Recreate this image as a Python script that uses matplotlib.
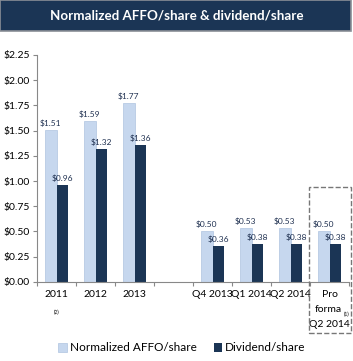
import numpy as np
import matplotlib.pyplot as plt
from matplotlib.patches import Rectangle

# Data
categories = ['2011', '2012', '2013', '', 'Q4 2013', 'Q1 2014', 'Q2 2014', 'Pro\nforma\nQ2 2014']
affo = [1.51, 1.59, 1.77, None, 0.50, 0.53, 0.53, 0.50]
dividend = [0.96, 1.32, 1.36, None, 0.36, 0.38, 0.38, 0.38]
y_ticks = [0.00, 0.25, 0.50, 0.75, 1.00, 1.25, 1.50, 1.75, 2.00, 2.25]

light = '#C6D7EE'
dark = '#1B3555'
plt.rcParams['font.family'] = ['Lato', 'DejaVu Sans']

fig = plt.figure(figsize=(3.53, 3.61), dpi=100)

# title bar
fig.patches.append(Rectangle((0, 0.915), 0.995, 0.085, transform=fig.transFigure,
                             facecolor=dark, edgecolor='#8A8F96', linewidth=1.2))
fig.text(0.5, 0.957, 'Normalized AFFO/share & dividend/share', color='white',
         fontsize=9.6, fontweight='bold', ha='center', va='center')

ax = fig.add_axes([0.105, 0.219, 0.884, 0.629])
x = np.arange(len(categories))
w = 0.3
for i in range(len(categories)):
    if affo[i] is None:
        continue
    ax.bar(x[i] - w / 2, affo[i], w, color=light, edgecolor='#AFC4E0', linewidth=0.5)
    ax.bar(x[i] + w / 2, dividend[i], w, color=dark)
    ax.text(x[i] - w / 2, affo[i] + 0.03, '$%.2f' % affo[i], ha='center', va='bottom',
            fontsize=6, color='#1F3050')
    ax.text(x[i] + w / 2, dividend[i] + 0.03, '$%.2f' % dividend[i], ha='center', va='bottom',
            fontsize=6, color='#1F3050')

ax.set_xlim(-0.5, len(categories) - 0.5)
ax.set_ylim(0, 2.25)
ax.set_yticks(y_ticks)
ax.set_yticklabels(['$%.2f' % v for v in y_ticks], fontsize=7.5)
ax.set_xticks(np.arange(len(categories) + 1) - 0.5)
ax.set_xticklabels([])
ax.tick_params(axis='x', length=3, color='#888888')
ax.tick_params(axis='y', length=3, color='#888888', pad=2)

# category labels
for i, c in enumerate(categories[:-1]):
    if c:
        ax.text(x[i], -0.08, c, ha='center', va='top', fontsize=7.5)
pro_lines = categories[-1].split('\n')
ax.text(x[7], -0.08, pro_lines[0], ha='center', va='top', fontsize=7.5)
ax.text(x[7] - 0.04, -0.23, pro_lines[1], ha='center', va='top', fontsize=7.5)
ax.text(x[7], -0.38, pro_lines[2], ha='center', va='top', fontsize=7.5)
ax.text(x[7] + 0.44, -0.30, '(1)', ha='center', va='top', fontsize=3.5)
ax.text(x[0], -0.28, '(2)', ha='center', va='top', fontsize=3.5)

for s in ['top', 'right']:
    ax.spines[s].set_visible(False)
ax.spines['left'].set_color('#888888')
ax.spines['bottom'].set_color('#888888')

# dashed box around pro forma
fig.patches.append(Rectangle((0.876, 0.078), 0.119, 0.404, transform=fig.transFigure,
                             fill=False, edgecolor='#777777', linestyle='--', linewidth=1))

# legend
fig.patches.append(Rectangle((0.165, 0.025), 0.025, 0.025, transform=fig.transFigure,
                             facecolor=light, edgecolor='#AFC4E0', linewidth=0.5))
fig.text(0.198, 0.037, 'Normalized AFFO/share', fontsize=8.5, va='center')
fig.patches.append(Rectangle((0.605, 0.025), 0.025, 0.025, transform=fig.transFigure,
                             facecolor=dark))
fig.text(0.638, 0.037, 'Dividend/share', fontsize=8.5, va='center')

fig.savefig('out.png', dpi=100)
